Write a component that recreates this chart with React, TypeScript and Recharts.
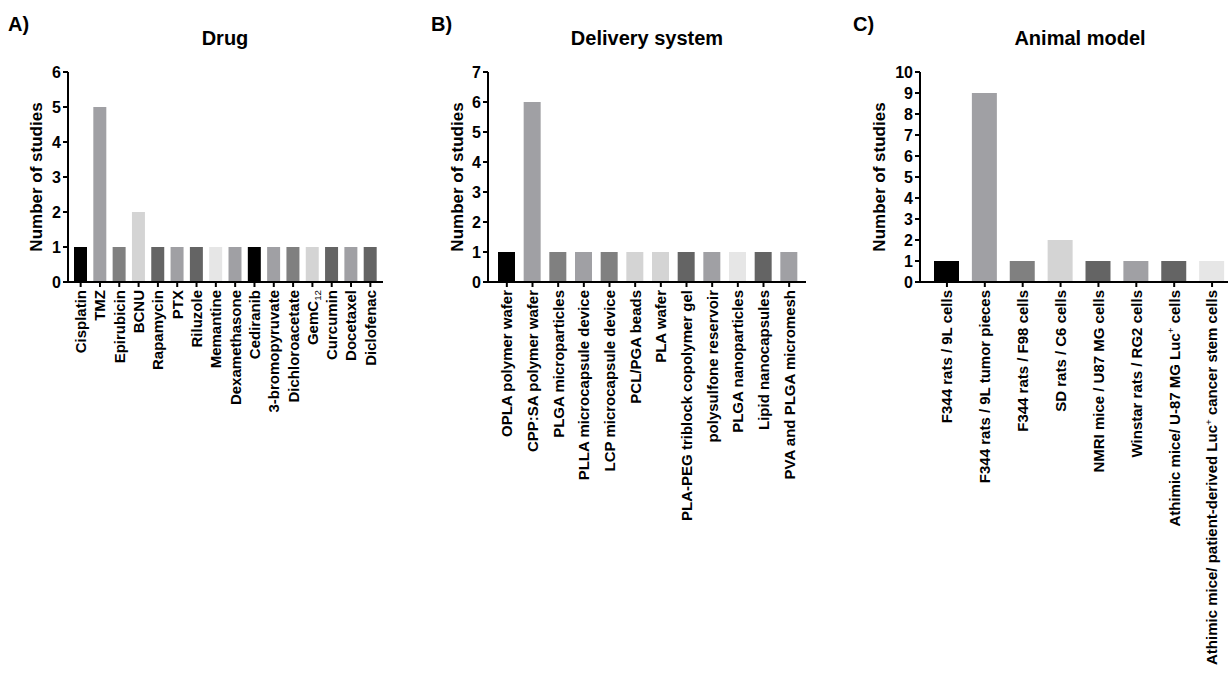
import React from 'react';
import { BarChart, Bar, XAxis, YAxis, Cell } from 'recharts';

const FONT = '"Liberation Sans", Arial, Helvetica, sans-serif';

// Panel A: Drug
const drugCategories = ['Cisplatin', 'TMZ', 'Epirubicin', 'BCNU', 'Rapamycin', 'PTX', 'Riluzole', 'Memantine', 'Dexamethasone', 'Cediranib', '3-bromopyruvate', 'Dichloroacetate', 'GemC₁₂', 'Curcumin', 'Docetaxel', 'Diclofenac'];
const drugValues = [1, 5, 1, 2, 1, 1, 1, 1, 1, 1, 1, 1, 1, 1, 1, 1];
const drugColors = ['#000000', '#a0a0a4', '#808080', '#d4d4d4', '#646464', '#a0a0a4', '#646464', '#e6e6e6', '#a0a0a4', '#000000', '#a0a0a4', '#808080', '#d4d4d4', '#646464', '#a0a0a4', '#646464'];
const drugTicks = [0, 1, 2, 3, 4, 5, 6];

// Panel B: Delivery system
const deliveryCategories = ['OPLA polymer wafer', 'CPP:SA polymer wafer', 'PLGA microparticles', 'PLLA microcapsule device', 'LCP microcapsule device', 'PCL/PGA beads', 'PLA wafer', 'PLA-PEG triblock copolymer gel', 'polysulfone reservoir', 'PLGA nanoparticles', 'Lipid nanocapsules', 'PVA and PLGA micromesh'];
const deliveryValues = [1, 6, 1, 1, 1, 1, 1, 1, 1, 1, 1, 1];
const deliveryColors = ['#000000', '#a0a0a4', '#808080', '#a0a0a4', '#808080', '#d4d4d4', '#d4d4d4', '#646464', '#a0a0a4', '#e6e6e6', '#646464', '#a0a0a4'];
const deliveryTicks = [0, 1, 2, 3, 4, 5, 6, 7];

// Panel C: Animal model
const animalCategories = ['F344 rats / 9L cells', 'F344 rats / 9L tumor pieces', 'F344 rats / F98 cells', 'SD rats / C6 cells', 'NMRI mice / U87 MG cells', 'Winstar rats / RG2 cells', 'Athimic mice/ U-87 MG Luc⁺ cells', 'Athimic mice/ patient-derived Luc⁺ cancer stem cells'];
const animalValues = [1, 9, 1, 2, 1, 1, 1, 1];
const animalColors = ['#000000', '#a0a0a4', '#808080', '#d4d4d4', '#646464', '#a0a0a4', '#646464', '#e6e6e6'];
const animalTicks = [0, 1, 2, 3, 4, 5, 6, 7, 8, 9, 10];

const SUP: Record<string, string> = { '⁺': '+', '⁰': '0', '¹': '1', '²': '2', '³': '3' };
const SUB: Record<string, string> = { '₀': '0', '₁': '1', '₂': '2', '₃': '3', '₄': '4', '₅': '5', '₆': '6', '₇': '7', '₈': '8', '₉': '9' };

type Seg = { text: string; kind: 'n' | 'sup' | 'sub' };
function splitRich(label: string): Seg[] {
  const segs: Seg[] = [];
  for (const ch of Array.from(label)) {
    let kind: Seg['kind'] = 'n';
    let t = ch;
    if (SUP[ch]) { kind = 'sup'; t = SUP[ch]; }
    else if (SUB[ch]) { kind = 'sub'; t = SUB[ch]; }
    const last = segs[segs.length - 1];
    if (last && last.kind === kind) last.text += t;
    else segs.push({ text: t, kind });
  }
  return segs;
}

const TICK_FS = 15;

const XTick = (props: any) => {
  const { x, y, payload } = props;
  const segs = splitRich(String(payload.value));
  const shift = TICK_FS * 0.38;
  let offset = 0;
  const spans = segs.map((s, i) => {
    let dy = 0;
    if (s.kind === 'sup') { dy = -shift - offset; offset = -shift; }
    else if (s.kind === 'sub') { dy = shift * 0.6 - offset; offset = shift * 0.6; }
    else { dy = -offset; offset = 0; }
    return (
      <tspan key={i} dy={dy} fontSize={s.kind === 'n' ? TICK_FS : TICK_FS * 0.65} fontWeight={s.kind === 'n' ? 'bold' : 'normal'}>
        {s.text}
      </tspan>
    );
  });
  return (
    <g transform={`translate(${x},${y})`}>
      <text transform="rotate(-90)" x={0} y={TICK_FS * 0.36} textAnchor="end" fill="#000" fontFamily={FONT} fontWeight="bold" fontSize={TICK_FS}>
        {spans}
      </text>
    </g>
  );
};

type PanelProps = {
  left: number;
  width: number;
  yWidth: number;
  marginRight: number;
  padL: number;
  padR: number;
  categories: string[];
  values: number[];
  colors: string[];
  ticks: number[];
  barSize: number;
};

const Panel = ({ left, width, yWidth, marginRight, padL, padR, categories, values, colors, ticks, barSize }: PanelProps) => {
  const data = categories.map((c, i) => ({ name: c, value: values[i] }));
  return (
    <div style={{ position: 'absolute', left, top: 0 }}>
      <BarChart width={width} height={686} data={data} margin={{ top: 72, right: marginRight, bottom: 0, left: 0 }} barCategoryGap={0}>
        <XAxis
          dataKey="name"
          interval={0}
          height={404}
          padding={{ left: padL, right: padR }}
          axisLine={{ stroke: '#000', strokeWidth: 2 }}
          tickLine={{ stroke: '#000', strokeWidth: 2 }}
          tickSize={5}
          tickMargin={3}
          tick={<XTick />}
        />
        <YAxis
          type="number"
          width={yWidth}
          domain={[0, ticks[ticks.length - 1]]}
          ticks={ticks}
          interval={0}
          axisLine={{ stroke: '#000', strokeWidth: 2 }}
          tickLine={{ stroke: '#000', strokeWidth: 2 }}
          tickSize={5}
          tickMargin={2}
          tick={{ fill: '#000', fontSize: 16, fontWeight: 'bold', fontFamily: FONT }}
        />
        <Bar dataKey="value" barSize={barSize} isAnimationActive={false}>
          {data.map((d, i) => (
            <Cell key={d.name} fill={colors[i]} />
          ))}
        </Bar>
      </BarChart>
    </div>
  );
};

export default function App() {
  return (
    <div style={{ position: 'absolute', left: 0, top: 0, width: 1228, height: 686, overflow: 'hidden', background: '#fff', fontFamily: FONT }}>
      <Panel left={0} width={400} yWidth={68} marginRight={17} padL={3} padR={3} categories={drugCategories} values={drugValues} colors={drugColors} ticks={drugTicks} barSize={13} />
      <Panel left={410} width={400} yWidth={78} marginRight={4} padL={6} padR={4} categories={deliveryCategories} values={deliveryValues} colors={deliveryColors} ticks={deliveryTicks} barSize={17} />
      <Panel left={820} width={430} yWidth={100} marginRight={11} padL={8} padR={8} categories={animalCategories} values={animalValues} colors={animalColors} ticks={animalTicks} barSize={25} />
      <svg width={1228} height={686} style={{ position: 'absolute', left: 0, top: 0, pointerEvents: 'none' }} fontFamily={FONT} fontWeight="bold" fill="#000">
        <text x={8} y={31} fontSize={20}>A)</text>
        <text x={431} y={31} fontSize={20}>B)</text>
        <text x={853} y={31} fontSize={20}>C)</text>
        <text x={225} y={45} fontSize={20} textAnchor="middle">Drug</text>
        <text x={647} y={45} fontSize={20} textAnchor="middle">Delivery system</text>
        <text x={1080} y={45} fontSize={20} textAnchor="middle">Animal model</text>
        <text transform="translate(42,177) rotate(-90)" fontSize={17} textAnchor="middle">Number of studies</text>
        <text transform="translate(463,177) rotate(-90)" fontSize={17} textAnchor="middle">Number of studies</text>
        <text transform="translate(885,177) rotate(-90)" fontSize={17} textAnchor="middle">Number of studies</text>
      </svg>
    </div>
  );
}
